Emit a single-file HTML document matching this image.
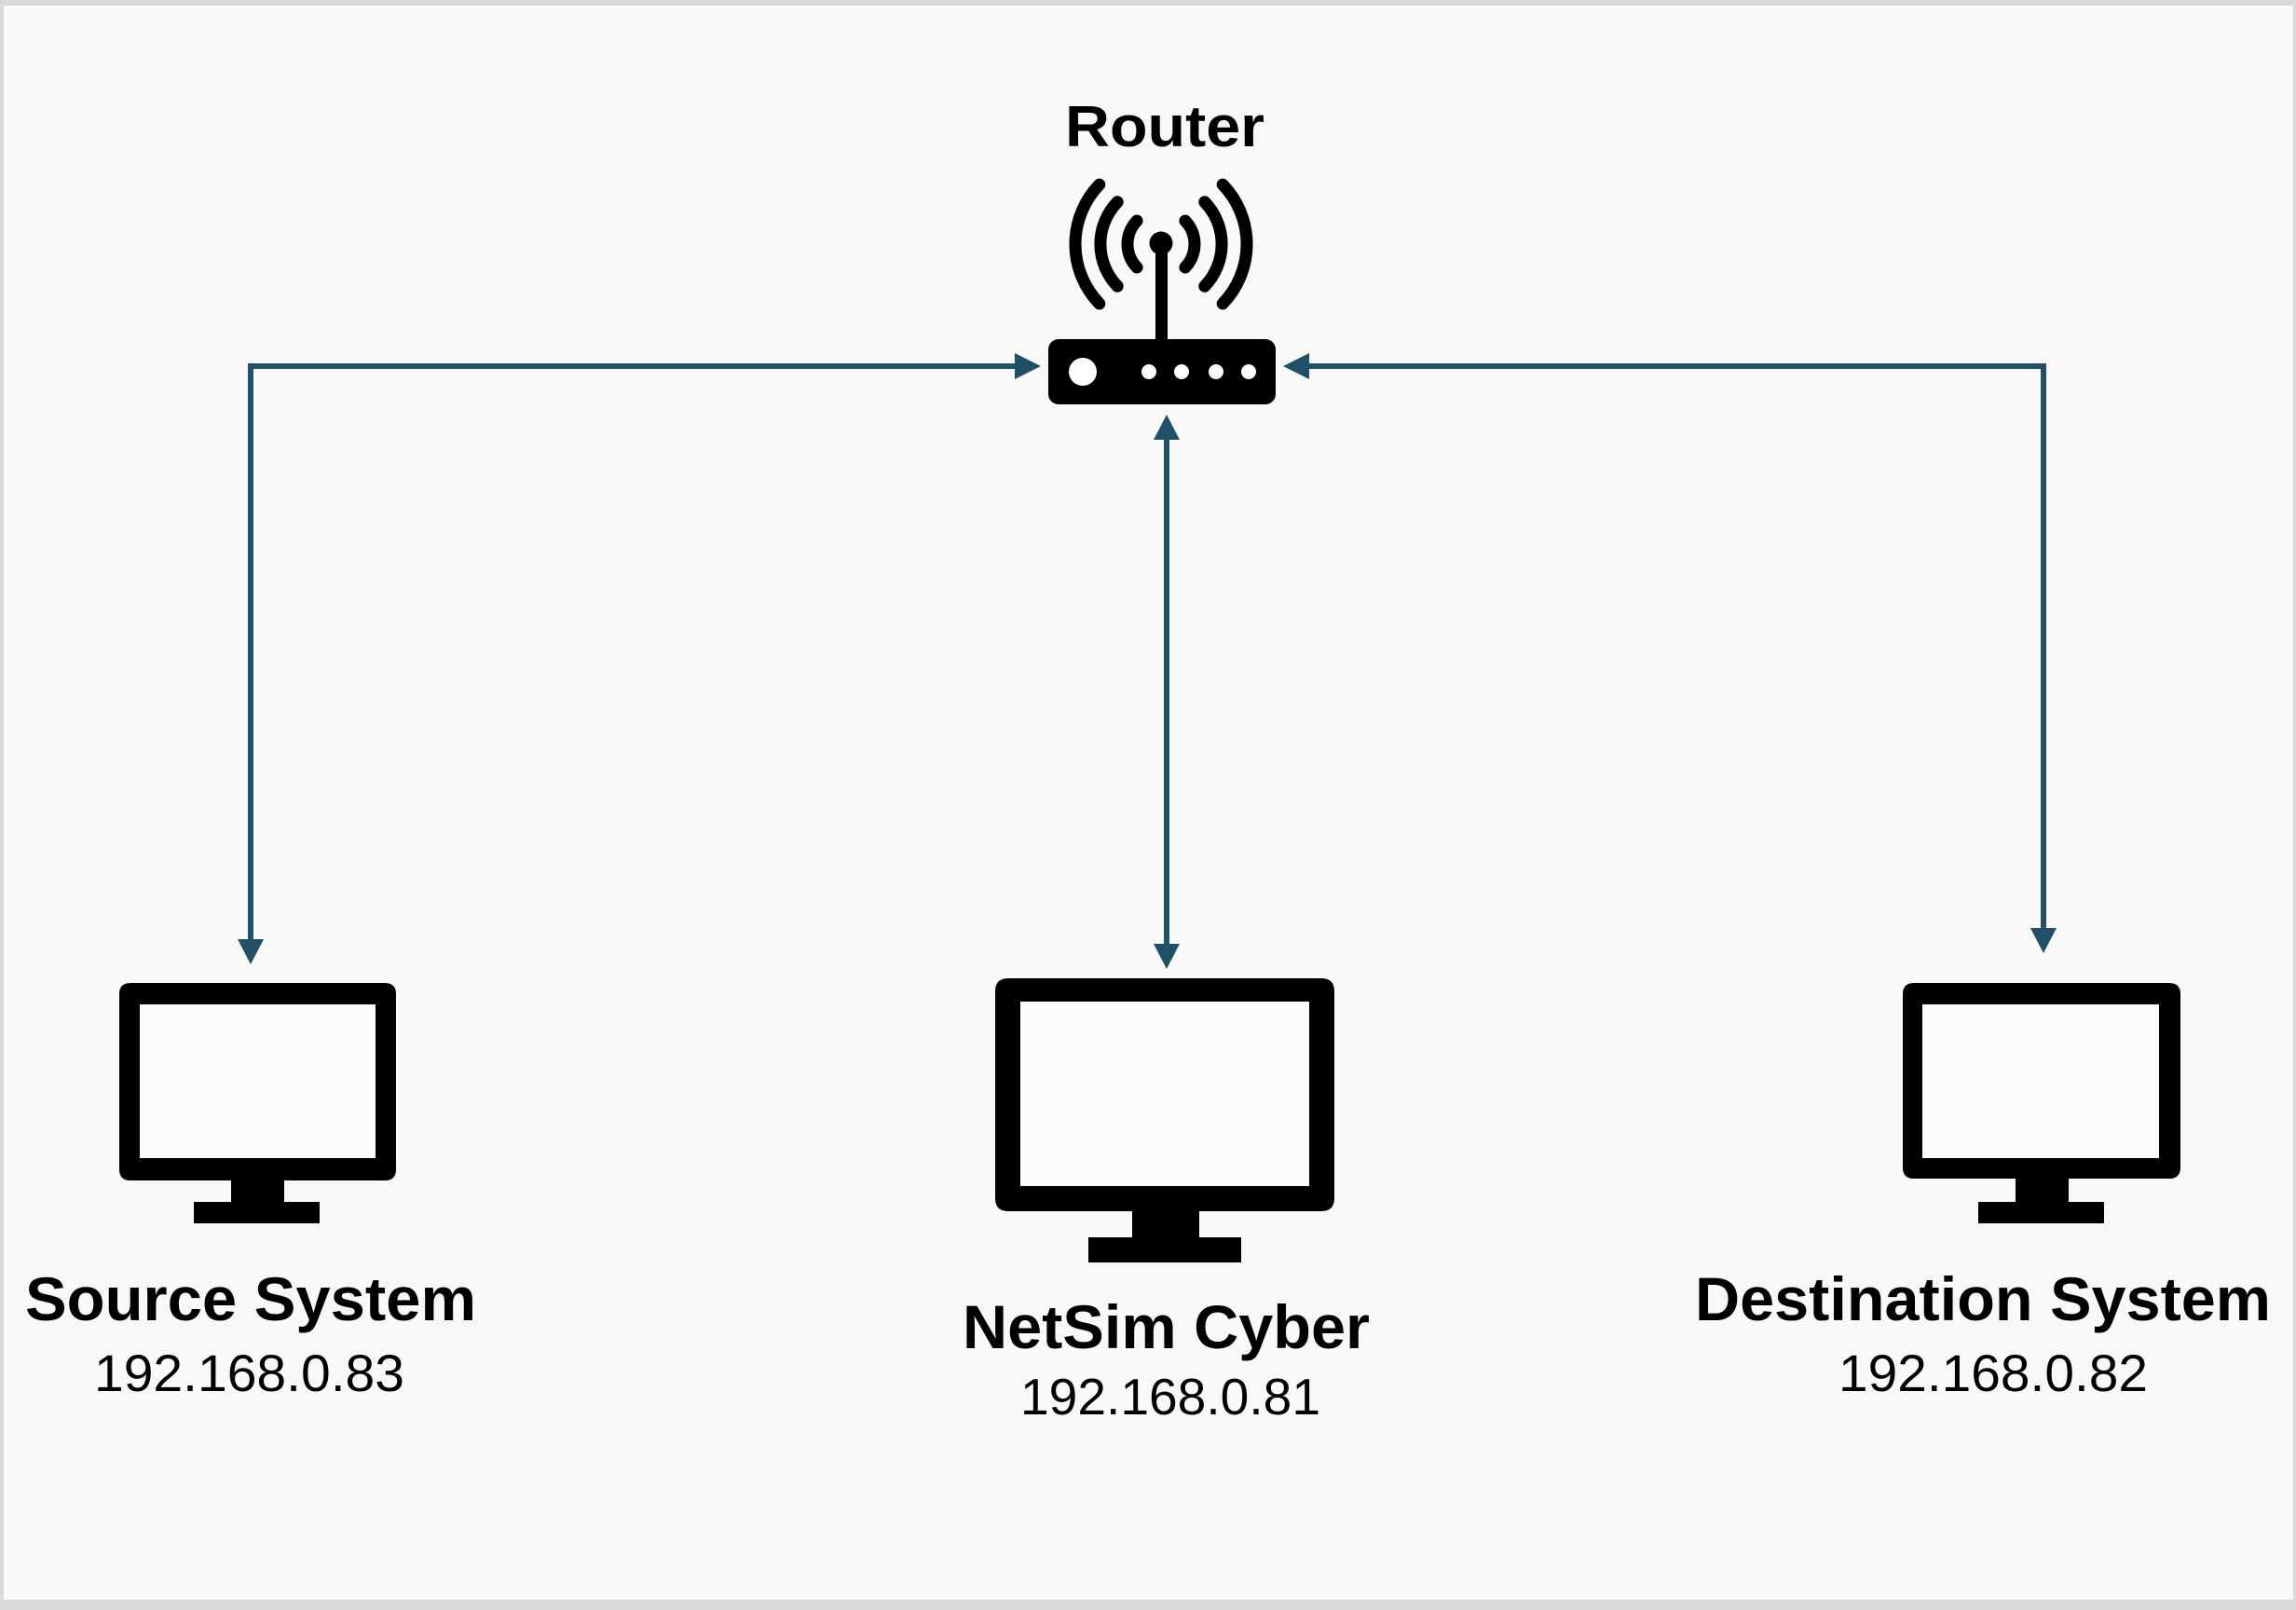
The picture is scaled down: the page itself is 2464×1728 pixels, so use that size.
<!DOCTYPE html>
<html>
<head>
<meta charset="utf-8">
<style>
  html, body { margin: 0; padding: 0; width: 2464px; height: 1728px; overflow: hidden; background: #dcdcdc; }
  svg { display: block; }
  .lbl { font-family: "Liberation Sans", Arial, sans-serif; font-weight: bold; fill: #000; }
  .ip { font-family: "Liberation Sans", Arial, sans-serif; font-weight: normal; fill: #000; }
</style>
</head>
<body>
<svg width="2464" height="1728" viewBox="0 0 2464 1728" xmlns="http://www.w3.org/2000/svg">
  <!-- frame/background -->
  <rect x="0" y="0" width="2464" height="1728" fill="#d9d9d9"/>
  <rect x="4" y="6" width="2457" height="1711" fill="#f8f8f6"/>

  <!-- connectors -->
  <g stroke="#1f5068" stroke-width="6" fill="none" stroke-linejoin="miter">
    <polyline points="269,1010 269,393 1092,393"/>
    <polyline points="1402,393 2193,393 2193,998"/>
    <line x1="1252" y1="468" x2="1252" y2="1015"/>
  </g>
  <g fill="#1f5068">
    <polygon points="1117,393 1089,379 1089,407"/>
    <polygon points="269,1035 255,1008 283,1008"/>
    <polygon points="1377,393 1405,379 1405,407"/>
    <polygon points="2193,1023 2179,996 2207,996"/>
    <polygon points="1252,445 1238,472 1266,472"/>
    <polygon points="1252,1040 1238,1013 1266,1013"/>
  </g>

  <!-- Router label -->
  <text class="lbl" x="1143" y="157" font-size="62" textLength="214" lengthAdjust="spacingAndGlyphs">Router</text>

  <!-- Router icon -->
  <g>
    <g stroke="#000" stroke-width="13" fill="none" stroke-linecap="round">
      <path d="M 1220.1 237 A 36 36 0 0 0 1220.1 287"/>
      <path d="M 1199.2 216.8 A 65 65 0 0 0 1199.2 307.2"/>
      <path d="M 1179.8 198.1 A 92 92 0 0 0 1179.8 325.9"/>
      <path d="M 1271.9 237 A 36 36 0 0 1 1271.9 287"/>
      <path d="M 1292.8 216.8 A 65 65 0 0 1 1292.8 307.2"/>
      <path d="M 1312.2 198.1 A 92 92 0 0 1 1312.2 325.9"/>
    </g>
    <rect x="1240" y="260" width="13" height="110" fill="#000"/>
    <circle cx="1246" cy="261" r="12.5" fill="#000"/>
    <rect x="1125" y="364" width="244" height="70" rx="11" ry="11" fill="#000"/>
    <circle cx="1162" cy="399" r="15" fill="#fff"/>
    <circle cx="1233" cy="399" r="8" fill="#fff"/>
    <circle cx="1268" cy="399" r="8" fill="#fff"/>
    <circle cx="1305" cy="399" r="8" fill="#fff"/>
    <circle cx="1340" cy="399" r="8" fill="#fff"/>
  </g>

  <!-- Left monitor -->
  <g fill="#000">
    <path fill-rule="evenodd" d="M 140 1055 H 413 Q 425 1055 425 1067 V 1255 Q 425 1267 413 1267 H 140 Q 128 1267 128 1255 V 1067 Q 128 1055 140 1055 Z M 150 1078 V 1243 H 403 V 1078 Z"/>
    <rect x="248" y="1265" width="57" height="27"/>
    <rect x="208" y="1290" width="135" height="23"/>
  </g>
  <rect x="150" y="1078" width="253" height="165" fill="#fbfbf9"/>

  <!-- Middle monitor -->
  <g fill="#000">
    <path fill-rule="evenodd" d="M 1082 1050 H 1418 Q 1432 1050 1432 1064 V 1286 Q 1432 1300 1418 1300 H 1082 Q 1068 1300 1068 1286 V 1064 Q 1068 1050 1082 1050 Z M 1095 1075 V 1273 H 1405 V 1075 Z"/>
    <rect x="1215" y="1298" width="72" height="32"/>
    <rect x="1168" y="1328" width="164" height="27"/>
  </g>
  <rect x="1095" y="1075" width="310" height="198" fill="#fbfbf9"/>

  <!-- Right monitor -->
  <g fill="#000">
    <path fill-rule="evenodd" d="M 2054 1055 H 2328 Q 2340 1055 2340 1067 V 1253 Q 2340 1265 2328 1265 H 2054 Q 2042 1265 2042 1253 V 1067 Q 2042 1055 2054 1055 Z M 2063 1078 V 1243 H 2317 V 1078 Z"/>
    <rect x="2163" y="1263" width="57" height="29"/>
    <rect x="2123" y="1290" width="135" height="23"/>
  </g>
  <rect x="2063" y="1078" width="254" height="165" fill="#fbfbf9"/>

  <!-- Labels -->
  <text class="lbl" x="27" y="1417" font-size="66" textLength="484" lengthAdjust="spacingAndGlyphs">Source System</text>
  <text class="ip" x="101" y="1493" font-size="56" textLength="333" lengthAdjust="spacingAndGlyphs">192.168.0.83</text>

  <text class="lbl" x="1033" y="1447" font-size="66" textLength="437" lengthAdjust="spacingAndGlyphs">NetSim Cyber</text>
  <text class="ip" x="1095" y="1518" font-size="55" textLength="322" lengthAdjust="spacingAndGlyphs">192.168.0.81</text>

  <text class="lbl" x="1819" y="1417" font-size="66" textLength="618" lengthAdjust="spacingAndGlyphs">Destination System</text>
  <text class="ip" x="1973" y="1493" font-size="56" textLength="332" lengthAdjust="spacingAndGlyphs">192.168.0.82</text>
</svg>
</body>
</html>
